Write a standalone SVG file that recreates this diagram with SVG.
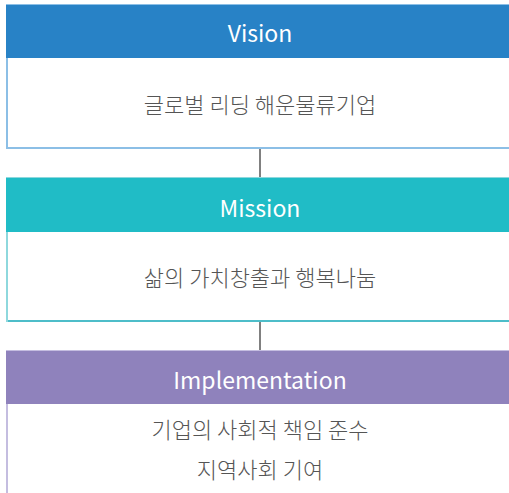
<svg xmlns="http://www.w3.org/2000/svg" width="509" height="493" viewBox="0 0 509 493">
<style>
.hd{font-family:"Noto Sans CJK KR","Noto Sans",sans-serif;font-size:23px;fill:#ffffff;text-anchor:middle}
.bd{font-family:"Noto Sans CJK KR","Noto Sans",sans-serif;font-size:22px;font-weight:300;fill:#555555;text-anchor:middle}
.conn{stroke:#808080;stroke-width:2;fill:none}
</style>
<rect width="509" height="493" fill="#ffffff"/>
<g id="connectors">
<line class="conn" x1="260" y1="149" x2="260" y2="178"/>
<line class="conn" x1="260" y1="322" x2="260" y2="351"/>
</g>
<g id="vision">
<rect x="7" y="5" width="510" height="143" fill="#ffffff" stroke="#8cbfe6" stroke-width="2"/>
<rect x="6" y="5" width="510" height="53" fill="#2882c6"/>
<text class="hd" x="260" y="42">Vision</text>
<text class="bd" x="260" y="113">글로벌 리딩 해운물류기업</text>
</g>
<g id="mission">
<rect x="7" y="178" width="510" height="143" fill="#ffffff" stroke="#8ed8dd" stroke-width="2"/>
<rect x="6" y="178" width="510" height="54" fill="#20bcc6"/>
<line x1="8" y1="321" x2="509" y2="321" stroke="#4dbdc9" stroke-width="2"/>
<text class="hd" x="260" y="217">Mission</text>
<text class="bd" x="260" y="286">삶의 가치창출과 행복나눔</text>
</g>
<g id="implementation">
<rect x="7" y="351" width="510" height="160" fill="#ffffff" stroke="#c4bde0" stroke-width="2"/>
<rect x="6" y="351" width="510" height="53" fill="#8f82bc"/>
<text class="hd" x="260" y="389">Implementation</text>
<text class="bd" x="260" y="438">기업의 사회적 책임 준수</text>
<text class="bd" x="260" y="478">지역사회 기여</text>
</g>
</svg>
